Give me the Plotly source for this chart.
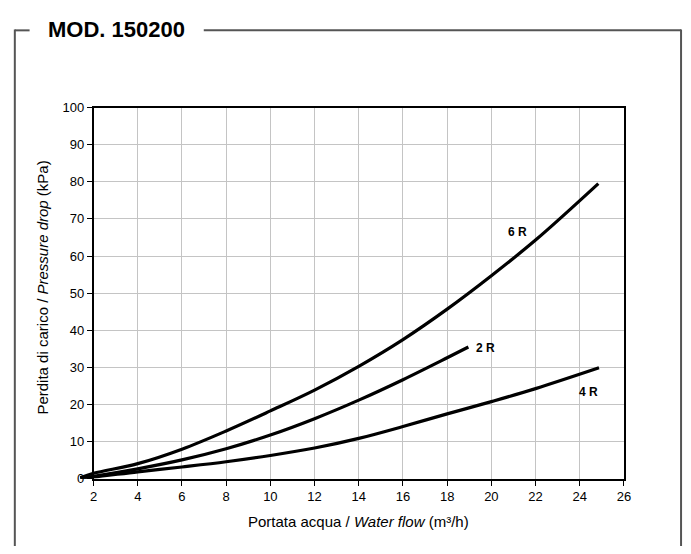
import plotly.graph_objects as go

W, H = 691, 554

# Data (x = water flow m3/h, y = pressure drop kPa)
x_6r = [1.4, 2, 4, 6, 8, 10, 12, 14, 16, 18, 20, 22, 24.84]
y_6r = [0.3, 1.5, 4.1, 8.0, 12.9, 18.3, 23.9, 30.3, 37.5, 45.7, 54.7, 64.3, 79.5]

x_2r = [1.4, 2, 4, 6, 8, 10, 12, 14, 16, 18, 18.96]
y_2r = [0.2, 0.7, 2.7, 5.1, 8.1, 11.8, 16.2, 21.2, 26.7, 32.6, 35.5]

x_4r = [1.4, 2, 4, 6, 8, 10, 12, 14, 16, 18, 20, 22, 24.87]
y_4r = [0.2, 0.5, 1.9, 3.2, 4.6, 6.3, 8.3, 10.9, 14.1, 17.5, 20.8, 24.3, 29.9]

series_names = ["6 R", "2 R", "4 R"]
label_pos_x = [21.2, 19.75, 24.4]
label_pos_y = [66.4, 35.2, 23.3]

x_ticks = list(range(2, 27, 2))
y_ticks = list(range(0, 101, 10))

# layout geometry (pixels)
px_left, px_right = 91, 630
py_top, py_bottom = 103.3, 485
px_ext_left = 60  # overhang area for curves left of x=2

x_min, x_max = 2, 26
units_per_px = (x_max - x_min) / (px_right - px_left)
x2_min = x_min - (px_left - px_ext_left) * units_per_px

dom_x = [px_left / W, px_right / W]
dom_x2 = [px_ext_left / W, px_right / W]
dom_y = [1 - py_bottom / H, 1 - py_top / H]

fig = go.Figure()
for xs, ys in [(x_6r, y_6r), (x_2r, y_2r), (x_4r, y_4r)]:
    fig.add_trace(go.Scatter(x=xs, y=ys, mode="lines", xaxis="x2", yaxis="y2",
                             line=dict(color="black", width=3.2, shape="spline", smoothing=1.0),
                             showlegend=False, hoverinfo="skip"))

font_family = "Liberation Sans, Arial, Helvetica, sans-serif"

fig.update_layout(
    width=W, height=H,
    margin=dict(l=0, r=0, t=0, b=0),
    paper_bgcolor="white", plot_bgcolor="rgba(0,0,0,0)",
    font=dict(family=font_family, color="black", size=13),
    xaxis=dict(domain=dom_x, range=[x_min, x_max], tickvals=x_ticks,
               showgrid=True, gridcolor="#c4c4c4", gridwidth=1,
               showline=True, linecolor="black", linewidth=1.6, mirror=True,
               ticks="outside", ticklen=5, tickcolor="black", tickwidth=1.2,
               zeroline=False, anchor="y", tickfont=dict(size=13)),
    yaxis=dict(domain=dom_y, range=[0, 100], tickvals=y_ticks,
               showgrid=True, gridcolor="#c4c4c4", gridwidth=1,
               showline=True, linecolor="black", linewidth=1.6, mirror=True,
               ticks="outside", ticklen=5, tickcolor="black", tickwidth=1.2,
               zeroline=False, anchor="x", tickfont=dict(size=13)),
    xaxis2=dict(domain=dom_x2, range=[x2_min, x_max], visible=False,
                showgrid=False, zeroline=False, anchor="y2", fixedrange=True),
    yaxis2=dict(domain=dom_y, range=[0, 100], visible=False,
                showgrid=False, zeroline=False, anchor="x2", fixedrange=True),
)

# curve labels
for name, lx, ly in zip(series_names, label_pos_x, label_pos_y):
    fig.add_annotation(x=lx, y=ly, xref="x", yref="y", text="<b>%s</b>" % name,
                       showarrow=False, font=dict(size=12, family=font_family),
                       xanchor="center", yanchor="middle")

# axis titles
fig.add_annotation(x=(px_left + px_right) / 2 / W, y=1 - 529 / H, xref="paper", yref="paper",
                   text="Portata acqua / <i>Water flow</i> (m³/h)", showarrow=False,
                   font=dict(size=15, family=font_family), xanchor="center", yanchor="middle")
fig.add_annotation(x=39 / W, y=1 - 288 / H, xref="paper", yref="paper",
                   text="Perdita di carico / <i>Pressure drop</i> (kPa)", showarrow=False,
                   textangle=-90, font=dict(size=15, family=font_family),
                   xanchor="center", yanchor="middle")

# title
fig.add_annotation(x=43 / W, y=1 - 23.5 / H, xref="paper", yref="paper",
                   text="<b>MOD. 150200</b>", showarrow=False,
                   font=dict(size=22, family=font_family),
                   xanchor="left", yanchor="middle")

# frame
frame_col = "#555555"
def pl(x0, y0, x1, y1):
    fig.add_shape(type="line", xref="paper", yref="paper",
                  x0=x0 / W, y0=1 - y0 / H, x1=x1 / W, y1=1 - y1 / H,
                  line=dict(color=frame_col, width=2))

pl(11, 24, 26, 24)
pl(203, 24, 688, 24)
pl(11, 23, 11, 554)
pl(688, 23, 688, 554)

fig.write_html("out.html")
